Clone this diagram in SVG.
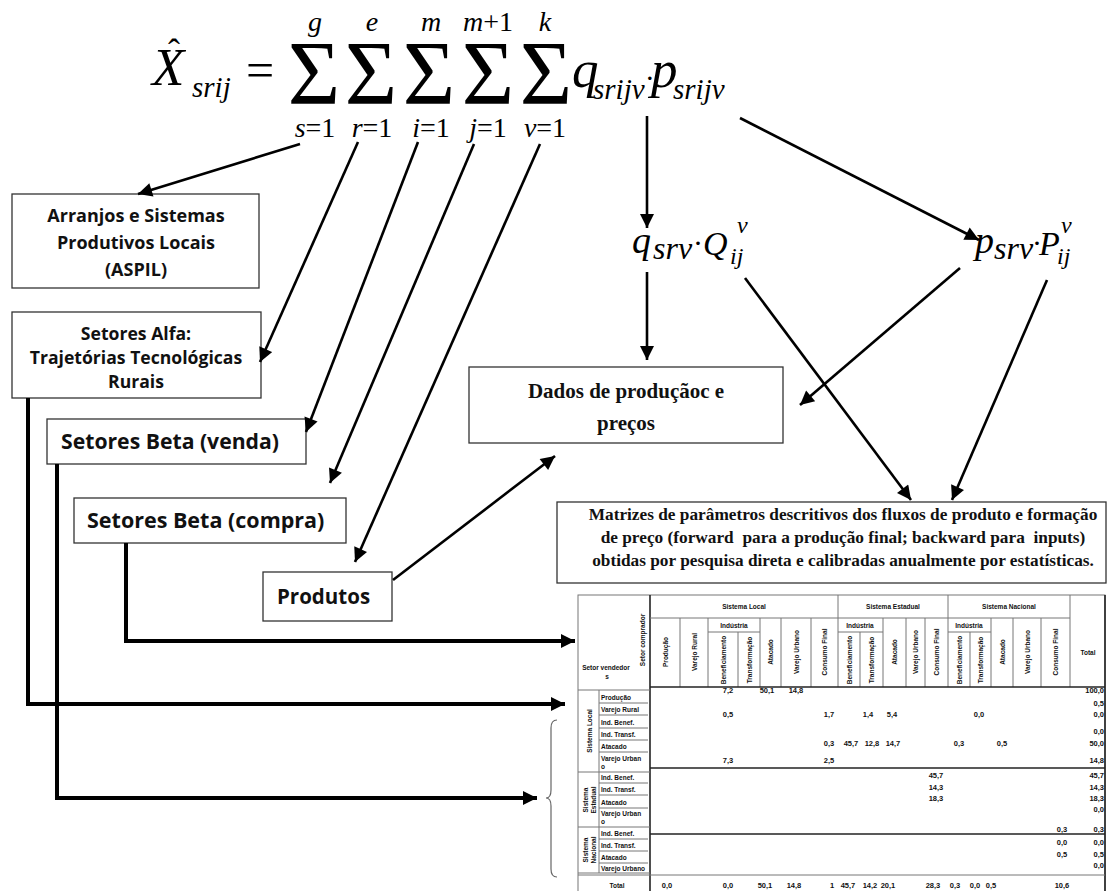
<svg xmlns="http://www.w3.org/2000/svg" width="1108" height="891" viewBox="0 0 1108 891">
  <style>
    .m { font-family: "Liberation Serif", "Times New Roman", serif; fill: #000; }
    .it { font-style: italic; }
    .lbl { font-family: "Open Sans", "Liberation Sans", sans-serif; font-weight: 700; fill: #111; }
    .ser { font-family: "Liberation Serif", "Times New Roman", serif; font-weight: 700; fill: #111; }
    .box { fill: #fff; stroke: #333; stroke-width: 1.3; }
    .ln { fill: none; stroke: #000; stroke-width: 2.6; marker-end: url(#ah); }
    .lt { fill: none; stroke: #000; stroke-width: 4; marker-end: url(#ah); }
    .tg { stroke: #777; stroke-width: 1; fill: none; }
    .td { stroke: #222; stroke-width: 1.6; fill: none; }
    .tt { font-family: "Liberation Sans", Arial, sans-serif; font-weight: 700; font-size: 6.5px; fill: #111; }
    .tv { font-family: "Liberation Sans", Arial, sans-serif; font-weight: 700; font-size: 7.5px; fill: #111; }
  </style>
  <defs>
    <marker id="ah" viewBox="0 0 10 10" refX="10" refY="5" markerWidth="17" markerHeight="14" markerUnits="userSpaceOnUse" orient="auto">
      <path d="M0,0 L10,5 L0,10 z" fill="#000"/>
    </marker>
  </defs>
  <rect width="1108" height="891" fill="#fff"/>

  <!-- main formula -->
  <g id="formula" class="m">
    <text x="152" y="85" font-size="53" class="it">X</text>
    <text x="174" y="64" font-size="36" text-anchor="middle">ˆ</text>
    <text x="192" y="97" font-size="29" class="it">srij</text>
    <text x="246" y="87" font-size="50">=</text>
    <g font-size="90" text-anchor="middle">
      <text x="314" y="104">Σ</text>
      <text x="371" y="104">Σ</text>
      <text x="429" y="104">Σ</text>
      <text x="488" y="104">Σ</text>
      <text x="546" y="104">Σ</text>
    </g>
    <g font-size="28" text-anchor="middle" class="it">
      <text x="315" y="31">g</text>
      <text x="372" y="31">e</text>
      <text x="431" y="31">m</text>
      <text x="488" y="31">m<tspan font-style="normal">+1</tspan></text>
      <text x="545" y="31">k</text>
    </g>
    <g font-size="28" text-anchor="middle">
      <text x="315" y="137"><tspan class="it">s</tspan>=1</text>
      <text x="372" y="137"><tspan class="it">r</tspan>=1</text>
      <text x="431" y="137"><tspan class="it">i</tspan>=1</text>
      <text x="488" y="137"><tspan class="it">j</tspan>=1</text>
      <text x="545" y="137"><tspan class="it">v</tspan>=1</text>
    </g>
    <text x="572" y="87" font-size="53" class="it">q</text>
    <text x="593" y="99" font-size="29" class="it">srijv</text>
    <text x="645" y="88" font-size="29">·</text>
    <text x="651" y="87" font-size="53" class="it">p</text>
    <text x="673" y="99" font-size="29" class="it">srijv</text>
  </g>

  <!-- partial terms -->
  <g id="term-q" class="m it">
    <text x="632" y="253" font-size="38">q</text>
    <text x="653" y="259" font-size="32">srv</text>
    <text x="693" y="253" font-size="30" font-style="normal">·</text>
    <text x="703" y="255" font-size="34">Q</text>
    <text x="730" y="264" font-size="24">ij</text>
    <text x="737" y="233" font-size="24">v</text>
  </g>
  <g id="term-p" class="m it">
    <text x="975" y="253" font-size="38">p</text>
    <text x="994" y="259" font-size="32">srv</text>
    <text x="1032" y="253" font-size="30" font-style="normal">·</text>
    <text x="1039" y="255" font-size="34">P</text>
    <text x="1057" y="264" font-size="24">ij</text>
    <text x="1061" y="233" font-size="24">v</text>
  </g>

  <!-- boxes -->
  <g id="aspil">
    <rect class="box" x="12" y="194" width="247" height="94"/>
    <g class="lbl" font-size="18" text-anchor="middle">
      <text x="136" y="222">Arranjos e Sistemas</text>
      <text x="136" y="249">Produtivos Locais</text>
      <text x="136" y="276">(ASPIL)</text>
    </g>
  </g>
  <g id="setores-alfa">
    <rect class="box" x="12" y="312" width="249" height="86"/>
    <g class="lbl" font-size="17.6" text-anchor="middle">
      <text x="136" y="340">Setores Alfa:</text>
      <text x="136" y="364">Trajetórias Tecnológicas</text>
      <text x="136" y="388">Rurais</text>
    </g>
  </g>
  <g id="beta-venda">
    <rect class="box" x="47" y="419" width="259" height="45"/>
    <text class="lbl" x="61" y="449" font-size="21.2">Setores Beta (venda)</text>
  </g>
  <g id="beta-compra">
    <rect class="box" x="74" y="498" width="272" height="45"/>
    <text class="lbl" x="87" y="528" font-size="21.5">Setores Beta (compra)</text>
  </g>
  <g id="produtos">
    <rect class="box" x="263" y="572" width="129" height="49"/>
    <text class="lbl" x="277" y="604" font-size="20.5">Produtos</text>
  </g>
  <g id="dados">
    <rect class="box" x="469" y="367" width="314" height="76"/>
    <g class="ser" font-size="21" text-anchor="middle">
      <text x="626" y="398">Dados de produçãoc e</text>
      <text x="626" y="430">preços</text>
    </g>
  </g>
  <g id="matrizes">
    <rect class="box" x="557" y="502" width="549" height="81"/>
    <g class="ser" font-size="17.3" text-anchor="middle">
      <text x="843" y="520">Matrizes de parâmetros descritivos dos fluxos de produto e formação</text>
      <text x="843" y="543" xml:space="preserve">de preço (forward  para a produção final; backward para  inputs)</text>
      <text x="843" y="566">obtidas por pesquisa direta e calibradas anualmente por estatísticas.</text>
    </g>
  </g>

  <!-- connectors -->
  <g id="connectors">
    <path class="ln" d="M300,144 L138,194"/>
    <path class="ln" d="M358,142 L260,362"/>
    <path class="ln" d="M418,142 L306,432"/>
    <path class="ln" d="M474,144 L330,483"/>
    <path class="ln" d="M540,144 L355,562"/>
    <path class="ln" d="M647,116 L647,228"/>
    <path class="ln" d="M740,118 L979,240"/>
    <path class="ln" d="M647,272 L647,360"/>
    <path class="ln" d="M745,278 L911,500"/>
    <path class="ln" d="M960,268 L800,405"/>
    <path class="ln" d="M1047,280 L952,500"/>
    <path class="ln" d="M393,580 L555,456"/>
    <path class="lt" d="M28,398 L28,704 L565,704"/>
    <path class="lt" d="M57,464 L57,798 L537,798"/>
    <path class="lt" d="M126,543 L126,641 L575,641"/>
    <path d="M557,720 Q551,720 551,728 L551,790 Q551,798 546,798 Q551,798 551,806 L551,869 Q551,877 557,877" fill="none" stroke="#666" stroke-width="1.2"/>
  </g>

  <!-- flow matrix table -->
  <g id="tabela">
    <!-- header frame -->
    <rect class="tg" x="578" y="595" width="527" height="300"/>
    <line class="td" x1="650" y1="595" x2="650" y2="891"/>
    <line class="td" x1="1105" y1="595" x2="1105" y2="891"/>
    <line class="tg" x1="650" y1="618" x2="1070" y2="618"/>
    <line class="tg" x1="838" y1="595" x2="838" y2="687"/>
    <line class="tg" x1="948" y1="595" x2="948" y2="687"/>
    <line class="tg" x1="1070" y1="595" x2="1070" y2="687"/>
    <g class="tg">
      <line x1="680" y1="618" x2="680" y2="687"/>
      <line x1="708" y1="618" x2="708" y2="687"/>
      <line x1="738" y1="632" x2="738" y2="687"/>
      <line x1="760" y1="618" x2="760" y2="687"/>
      <line x1="781" y1="618" x2="781" y2="687"/>
      <line x1="811" y1="618" x2="811" y2="687"/>
      <line x1="860" y1="632" x2="860" y2="687"/>
      <line x1="883" y1="618" x2="883" y2="687"/>
      <line x1="906" y1="618" x2="906" y2="687"/>
      <line x1="925" y1="618" x2="925" y2="687"/>
      <line x1="970" y1="632" x2="970" y2="687"/>
      <line x1="991" y1="618" x2="991" y2="687"/>
      <line x1="1013" y1="618" x2="1013" y2="687"/>
      <line x1="1041" y1="618" x2="1041" y2="687"/>
      <line x1="708" y1="632" x2="760" y2="632"/>
      <line x1="838" y1="632" x2="883" y2="632"/>
      <line x1="948" y1="632" x2="991" y2="632"/>
    </g>
    <line class="td" x1="650" y1="687" x2="1105" y2="687"/>
    <line class="tg" x1="578" y1="690" x2="650" y2="690"/>

    <!-- header texts -->
    <g class="tt" text-anchor="middle">
      <text x="744" y="609">Sistema Local</text>
      <text x="893" y="609">Sistema Estadual</text>
      <text x="1009" y="609">Sistema Nacional</text>
      <text x="1088" y="655">Total</text>
      <text x="734" y="628">Indústria</text>
      <text x="860" y="628">Indústria</text>
      <text x="969" y="628">Indústria</text>
      <text x="606" y="670">Setor vendedor</text>
      <text x="607" y="679">s</text>
    </g>
    <g class="tt" text-anchor="middle">
      <text transform="translate(645,640) rotate(-90)">Setor comprador</text>
      <text transform="translate(668,652) rotate(-90)">Produção</text>
      <text transform="translate(697,652) rotate(-90)">Varejo Rural</text>
      <text transform="translate(726,660) rotate(-90)">Beneficiamento</text>
      <text transform="translate(752,660) rotate(-90)">Transformação</text>
      <text transform="translate(773,652) rotate(-90)">Atacado</text>
      <text transform="translate(799,652) rotate(-90)">Varejo Urbano</text>
      <text transform="translate(827,652) rotate(-90)">Consumo Final</text>
      <text transform="translate(852,660) rotate(-90)">Beneficiamento</text>
      <text transform="translate(874,660) rotate(-90)">Transformação</text>
      <text transform="translate(897,652) rotate(-90)">Atacado</text>
      <text transform="translate(918,652) rotate(-90)">Varejo Urbano</text>
      <text transform="translate(939,652) rotate(-90)">Consumo Final</text>
      <text transform="translate(962,660) rotate(-90)">Beneficiamento</text>
      <text transform="translate(983,660) rotate(-90)">Transformação</text>
      <text transform="translate(1005,652) rotate(-90)">Atacado</text>
      <text transform="translate(1030,652) rotate(-90)">Varejo Urbano</text>
      <text transform="translate(1058,652) rotate(-90)">Consumo Final</text>
    </g>

    <!-- row label column -->
    <g class="tg">
      <line x1="599" y1="690" x2="599" y2="873"/>
      <line x1="578" y1="772" x2="650" y2="772"/>
      <line x1="578" y1="827" x2="650" y2="827"/>
      <line x1="578" y1="873" x2="650" y2="873"/>
      <line x1="599" y1="703" x2="648" y2="703"/>
      <line x1="599" y1="715" x2="648" y2="715"/>
      <line x1="599" y1="728" x2="648" y2="728"/>
      <line x1="599" y1="740" x2="648" y2="740"/>
      <line x1="599" y1="752" x2="648" y2="752"/>
      <line x1="599" y1="783" x2="648" y2="783"/>
      <line x1="599" y1="795" x2="648" y2="795"/>
      <line x1="599" y1="808" x2="648" y2="808"/>
      <line x1="599" y1="839" x2="648" y2="839"/>
      <line x1="599" y1="851" x2="648" y2="851"/>
      <line x1="599" y1="863" x2="648" y2="863"/>
    </g>
    <g class="tt">
      <text x="601" y="700">Produção</text>
      <text x="601" y="712">Varejo Rural</text>
      <text x="601" y="725">Ind. Benef.</text>
      <text x="601" y="737">Ind. Transf.</text>
      <text x="601" y="749">Atacado</text>
      <text x="601" y="761">Varejo Urban</text>
      <text x="601" y="769">o</text>
      <text x="601" y="780">Ind. Benef.</text>
      <text x="601" y="792">Ind. Transf.</text>
      <text x="601" y="805">Atacado</text>
      <text x="601" y="816">Varejo Urban</text>
      <text x="601" y="824">o</text>
      <text x="601" y="836">Ind. Benef.</text>
      <text x="601" y="848">Ind. Transf.</text>
      <text x="601" y="860">Atacado</text>
      <text x="601" y="871">Varejo Urbano</text>
      <text x="617" y="888" text-anchor="middle">Total</text>
    </g>
    <g class="tt" text-anchor="middle">
      <text transform="translate(592,731) rotate(-90)">Sistema Local</text>
      <text transform="translate(588,800) rotate(-90)">Sistema</text>
      <text transform="translate(596,800) rotate(-90)">Estadual</text>
      <text transform="translate(588,850) rotate(-90)">Sistema</text>
      <text transform="translate(596,850) rotate(-90)">Nacional</text>
    </g>

    <!-- data area rules -->
    <line class="td" x1="650" y1="768" x2="1105" y2="768"/>
    <line class="td" x1="650" y1="834" x2="1105" y2="834"/>
    <line class="tg" x1="578" y1="875" x2="1105" y2="875"/>

    <!-- values -->
    <g class="tv" text-anchor="middle">
      <text x="728" y="693">7,2</text>
      <text x="767" y="693">50,1</text>
      <text x="796" y="693">14,8</text>
      <text x="728" y="717">0,5</text>
      <text x="829" y="717">1,7</text>
      <text x="868" y="717">1,4</text>
      <text x="892" y="717">5,4</text>
      <text x="979" y="717">0,0</text>
      <text x="829" y="746">0,3</text>
      <text x="851" y="746">45,7</text>
      <text x="872" y="746">12,8</text>
      <text x="893" y="746">14,7</text>
      <text x="959" y="746">0,3</text>
      <text x="1002" y="746">0,5</text>
      <text x="728" y="763">7,3</text>
      <text x="829" y="763">2,5</text>
      <text x="936" y="778">45,7</text>
      <text x="936" y="790">14,3</text>
      <text x="936" y="801">18,3</text>
      <text x="1062" y="832">0,3</text>
      <text x="1062" y="845">0,0</text>
      <text x="1062" y="857">0,5</text>
      <text x="667" y="888">0,0</text>
      <text x="728" y="888">0,0</text>
      <text x="765" y="888">50,1</text>
      <text x="794" y="888">14,8</text>
      <text x="832" y="888">1</text>
      <text x="848" y="888">45,7</text>
      <text x="870" y="888">14,2</text>
      <text x="888" y="888">20,1</text>
      <text x="933" y="888">28,3</text>
      <text x="955" y="888">0,3</text>
      <text x="975" y="888">0,0</text>
      <text x="991" y="888">0,5</text>
      <text x="1062" y="888">10,6</text>
    </g>
    <g class="tv" text-anchor="end">
      <text x="1104" y="693">100,0</text>
      <text x="1104" y="706">0,5</text>
      <text x="1104" y="717">0,0</text>
      <text x="1104" y="734">0,0</text>
      <text x="1104" y="746">50,0</text>
      <text x="1104" y="763">14,8</text>
      <text x="1104" y="778">45,7</text>
      <text x="1104" y="790">14,3</text>
      <text x="1104" y="801">18,3</text>
      <text x="1104" y="812">0,0</text>
      <text x="1104" y="832">0,3</text>
      <text x="1104" y="845">0,0</text>
      <text x="1104" y="857">0,5</text>
      <text x="1104" y="868">0,0</text>
    </g>
  </g>
</svg>
